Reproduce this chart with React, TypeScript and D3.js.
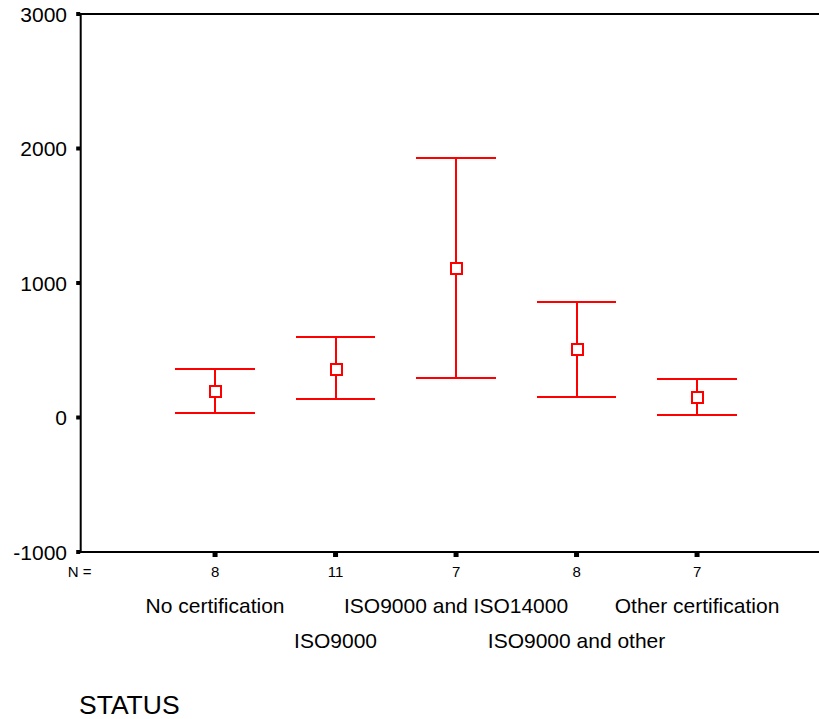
import React, { useRef, useEffect } from "react";
import * as d3 from "d3";

const categories = [
  "No certification",
  "ISO9000",
  "ISO9000 and ISO14000",
  "ISO9000 and other",
  "Other certification",
];
const nValues = [8, 11, 7, 8, 7];
const means = [195, 362, 1115, 506, 151];
const lowers = [32, 134, 297, 151, 17];
const uppers = [357, 597, 1933, 862, 285];
const yTicks = [-1000, 0, 1000, 2000, 3000];

const App = () => {
  const ref = useRef<HTMLDivElement>(null);

  useEffect(() => {
    const width = 819;
    const height = 719;
    const red = "#ff0000";
    const font = "'Liberation Sans', Arial, sans-serif";

    const y = d3.scaleLinear().domain([-1000, 3000]).range([552, 14]);
    const x = d3.scaleLinear().domain([-1.115, 5.012]).range([80.7, 819]);
    const step = x(1) - x(0);
    const capHalf = step * 0.33;

    const svg = d3.create("svg")
      .attr("width", width)
      .attr("height", height)
      .attr("style", `position:absolute;left:0;top:0;background:#fff;font-family:${font};`);

    const [x0, x1] = x.range();
    const [yb, yt] = y.range();

    // frame: left, top, bottom (no right side)
    svg.append("path")
      .attr("d", `M${x1},${yt}H${x0}V${yb}H${x1}`)
      .attr("fill", "none")
      .attr("stroke", "#000")
      .attr("stroke-width", 2);

    // y ticks + labels
    const yg = svg.append("g");
    yg.selectAll("rect")
      .data(yTicks)
      .join("rect")
      .attr("x", x0 - 4.5)
      .attr("y", d => y(d) - 2)
      .attr("width", 4)
      .attr("height", 4)
      .attr("fill", "#000");
    yg.selectAll("text")
      .data(yTicks)
      .join("text")
      .attr("x", 67)
      .attr("y", d => y(d))
      .attr("dy", "0.36em")
      .attr("text-anchor", "end")
      .attr("font-size", 21)
      .text(d => d);

    // x ticks
    svg.append("g")
      .selectAll("rect")
      .data(categories)
      .join("rect")
      .attr("x", (d, i) => x(i) - 2.5)
      .attr("y", yb)
      .attr("width", 5)
      .attr("height", 5)
      .attr("fill", "#000");

    // N = row
    svg.append("text")
      .attr("x", x0 - 1)
      .attr("y", 577)
      .attr("text-anchor", "middle")
      .attr("font-size", 15)
      .text("N =");
    svg.append("g")
      .selectAll("text")
      .data(nValues)
      .join("text")
      .attr("x", (d, i) => x(i))
      .attr("y", 577)
      .attr("text-anchor", "middle")
      .attr("font-size", 15)
      .text(d => d);

    // category labels, staggered in two rows
    svg.append("g")
      .selectAll("text")
      .data(categories)
      .join("text")
      .attr("x", (d, i) => x(i))
      .attr("y", (d, i) => (i % 2 === 0 ? 613 : 648))
      .attr("text-anchor", "middle")
      .attr("font-size", 21)
      .text(d => d);

    svg.append("text")
      .attr("x", 79)
      .attr("y", 714)
      .attr("font-size", 26.5)
      .text("STATUS");

    // error bars
    const bars = svg.append("g")
      .attr("shape-rendering", "crispEdges")
      .selectAll("g")
      .data(categories.map((c, i) => ({ i, mean: means[i], lo: lowers[i], hi: uppers[i] })))
      .join("g");

    bars.append("line")
      .attr("x1", d => Math.round(x(d.i)))
      .attr("x2", d => Math.round(x(d.i)))
      .attr("y1", d => y(d.hi))
      .attr("y2", d => y(d.lo))
      .attr("stroke", red)
      .attr("stroke-width", 2);

    bars.selectAll("line.cap")
      .data(d => [d.hi, d.lo].map(v => ({ i: d.i, v })))
      .join("line")
      .attr("class", "cap")
      .attr("x1", d => x(d.i) - capHalf)
      .attr("x2", d => x(d.i) + capHalf)
      .attr("y1", d => Math.round(y(d.v)))
      .attr("y2", d => Math.round(y(d.v)))
      .attr("stroke", red)
      .attr("stroke-width", 2);

    bars.append("rect")
      .attr("x", d => Math.round(x(d.i)) - 5.5)
      .attr("y", d => Math.round(y(d.mean)) - 5.5)
      .attr("width", 11)
      .attr("height", 11)
      .attr("fill", "#fff")
      .attr("stroke", red)
      .attr("stroke-width", 2);

    const container = ref.current;
    if (!container) return;
    container.innerHTML = "";
    container.appendChild(svg.node()!);
  }, []);

  return <div ref={ref} />;
};

export default App;
